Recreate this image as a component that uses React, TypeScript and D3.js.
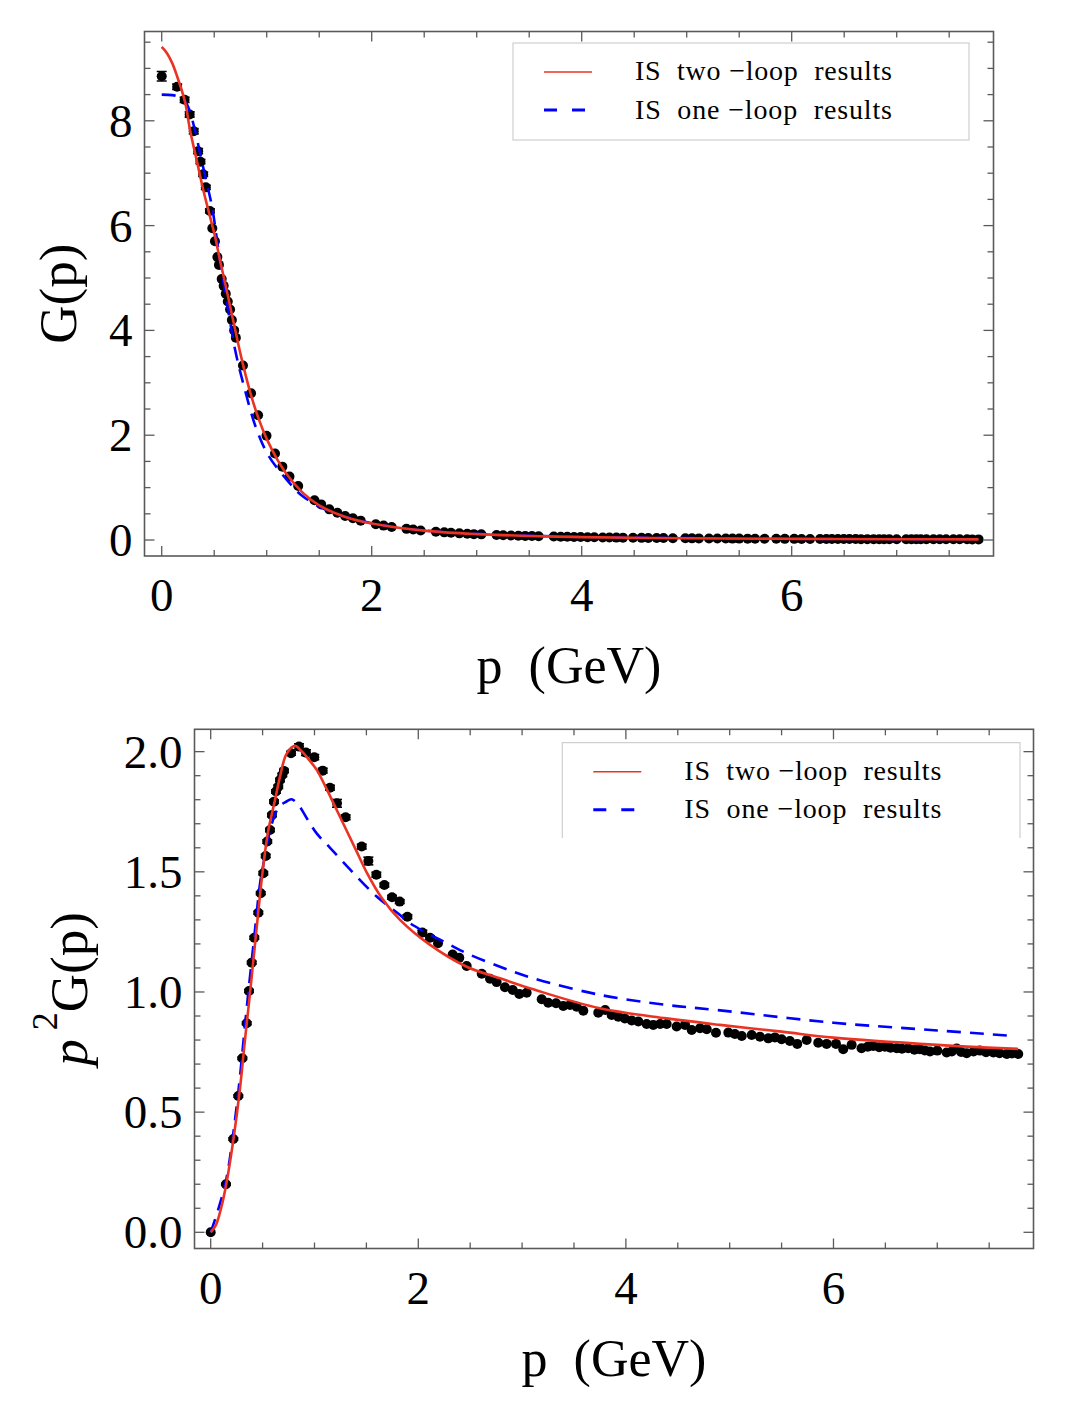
import React from 'react';
import * as d3 from 'd3';

// lattice momenta (GeV), shared by both panels
const latticeP = [
  0, 0.147, 0.218, 0.266, 0.305, 0.347, 0.369, 0.395, 0.42, 0.459, 0.482, 0.507, 0.53, 0.545, 0.571,
  0.59, 0.61, 0.629, 0.651, 0.668, 0.69, 0.706, 0.774, 0.851, 0.918, 0.998, 1.079, 1.149, 1.217, 1.3,
  1.455, 1.519, 1.596, 1.673, 1.747, 1.821, 1.895, 2.039, 2.113, 2.19, 2.331, 2.395, 2.466, 2.611,
  2.691, 2.755, 2.835, 2.91, 2.973, 3.044, 3.189, 3.252, 3.327, 3.397, 3.462, 3.526, 3.59, 3.734, 3.8,
  3.863, 3.927, 3.99, 4.056, 4.12, 4.2, 4.264, 4.33, 4.393, 4.489, 4.57, 4.634, 4.714, 4.779, 4.868,
  4.987, 5.05, 5.116, 5.212, 5.292, 5.372, 5.436, 5.5, 5.58, 5.651, 5.742, 5.853, 5.934, 6.024, 6.094,
  6.175, 6.27, 6.33, 6.383, 6.44, 6.496, 6.55, 6.609, 6.66, 6.72, 6.78, 6.833, 6.88, 6.93, 7.0, 7.09,
  7.14, 7.187, 7.23, 7.283, 7.35, 7.41, 7.47, 7.54, 7.6, 7.67, 7.72, 7.78,
];

// G(p), top panel
const latticeG = [
  8.85, 8.65, 8.4, 8.12, 7.8, 7.42, 7.22, 6.98, 6.73, 6.28, 5.95, 5.7, 5.4, 5.25, 4.98,
  4.85, 4.7, 4.55, 4.4, 4.2, 4.0, 3.86, 3.33, 2.8, 2.38, 1.99, 1.65, 1.4, 1.21, 1.03,
  0.76, 0.68, 0.585, 0.52, 0.46, 0.415, 0.37, 0.3, 0.275, 0.25, 0.213, 0.2, 0.183, 0.158,
  0.146, 0.137, 0.127, 0.119, 0.112, 0.108, 0.095, 0.09, 0.086, 0.082, 0.079, 0.076, 0.072, 0.066, 0.064,
  0.061, 0.058, 0.056, 0.054, 0.052, 0.049, 0.047, 0.046, 0.045, 0.042, 0.041, 0.039, 0.038, 0.037, 0.035,
  0.033, 0.032, 0.031, 0.03, 0.029, 0.028, 0.027, 0.027, 0.026, 0.025, 0.024, 0.023, 0.022, 0.022, 0.021,
  0.02, 0.019, 0.019, 0.019, 0.019, 0.018, 0.018, 0.018, 0.017, 0.017, 0.017, 0.016, 0.016, 0.016, 0.015, 0.015,
  0.015, 0.015, 0.014, 0.014, 0.014, 0.014, 0.013, 0.013, 0.013, 0.013, 0.012, 0.012,
];
const latticeGErr = [0.09, 0.05, 0.05, 0.05, 0.05, 0.05, 0.04, 0.04, 0.04, 0.04];

// p^2 G(p), bottom panel
const latticeP2G = [
  0, 0.2, 0.388, 0.567, 0.724, 0.87, 1.004, 1.122, 1.226, 1.33, 1.411, 1.494, 1.566, 1.626, 1.674,
  1.736, 1.792, 1.834, 1.854, 1.882, 1.903, 1.92, 1.993, 2.021, 1.996, 1.977, 1.921, 1.85, 1.785, 1.727,
  1.605, 1.545, 1.488, 1.445, 1.394, 1.376, 1.313, 1.247, 1.226, 1.203, 1.156, 1.142, 1.108, 1.076,
  1.055, 1.041, 1.02, 1.008, 0.992, 0.997, 0.97, 0.955, 0.953, 0.942, 0.946, 0.939, 0.922, 0.914, 0.925,
  0.904, 0.897, 0.89, 0.881, 0.877, 0.867, 0.863, 0.867, 0.867, 0.856, 0.863, 0.842, 0.849, 0.845, 0.83,
  0.831, 0.825, 0.817, 0.821, 0.814, 0.807, 0.811, 0.803, 0.796, 0.784, 0.8, 0.789, 0.784, 0.784, 0.762,
  0.78, 0.766, 0.772, 0.775, 0.77, 0.772, 0.768, 0.766, 0.764, 0.766, 0.76, 0.762, 0.757, 0.752, 0.756, 0.748,
  0.752, 0.765, 0.75, 0.745, 0.752, 0.756, 0.749, 0.748, 0.745, 0.742, 0.744, 0.742,
];
const latticeP2GErr = [
  0, 0.004, 0.005, 0.005, 0.005, 0.006, 0.006, 0.006, 0.006, 0.006, 0.006, 0.007, 0.007, 0.007, 0.007,
  0.007, 0.007, 0.007, 0.007, 0.007, 0.007, 0.007, 0.008, 0.012, 0.012, 0.011, 0.01, 0.01, 0.016, 0.01,
  0.01, 0.016, 0.01, 0.008, 0.008, 0.008, 0.008, 0.01, 0.008,
];

// IS curves, G(p)
const twoLoopGP = [0, 0.05, 0.1, 0.143, 0.222, 0.27, 0.333, 0.396, 0.46, 0.508, 0.555, 0.612, 0.676, 0.73, 0.78, 0.85, 0.92, 1.0, 1.1, 1.2, 1.35, 1.5, 1.75, 2.0, 2.5, 3.0, 3.5, 4.0, 5.0, 6.0, 7.0, 7.78];
const twoLoopG = [9.41, 9.29, 9.1, 8.87, 8.36, 7.82, 7.25, 6.68, 6.17, 5.79, 5.34, 4.83, 4.23, 3.73, 3.3, 2.77, 2.33, 1.93, 1.54, 1.23, 0.89, 0.66, 0.44, 0.315, 0.18, 0.113, 0.078, 0.055, 0.034, 0.0225, 0.016, 0.0126];
const oneLoopGP = [0, 0.1, 0.143, 0.2, 0.244, 0.317, 0.365, 0.422, 0.48, 0.55, 0.635, 0.7, 0.78, 0.9, 1.02, 1.2, 1.34, 1.6, 2.0, 2.5, 3.0, 3.75, 4.4, 5.0, 6.0, 7.0, 7.7];
const oneLoopG = [8.5, 8.49, 8.47, 8.42, 8.3, 7.82, 7.38, 6.87, 6.35, 5.4, 4.36, 3.62, 2.96, 2.13, 1.6, 1.13, 0.84, 0.545, 0.32, 0.182, 0.12, 0.07, 0.049, 0.037, 0.024, 0.0175, 0.014];

// IS curves, p^2 G(p)
const twoLoopP2GP = [0, 0.05, 0.1, 0.15, 0.22, 0.28, 0.33, 0.375, 0.42, 0.46, 0.5, 0.55, 0.62, 0.67, 0.73, 0.81, 0.88, 0.95, 1.02, 1.1, 1.2, 1.3, 1.4, 1.5, 1.65, 1.824, 2.1, 2.466, 2.787, 3.108, 3.75, 4.393, 4.906, 5.5, 6.0, 7.0, 7.78];
const twoLoopP2G = [0, 0.03, 0.1, 0.2, 0.39, 0.59, 0.8, 0.98, 1.17, 1.34, 1.5, 1.66, 1.8, 1.9, 1.99, 2.024, 2.0, 1.965, 1.925, 1.86, 1.77, 1.68, 1.59, 1.5, 1.39, 1.3, 1.2, 1.105, 1.057, 1.011, 0.932, 0.89, 0.863, 0.835, 0.81, 0.78, 0.763];
const oneLoopP2GP = [0, 0.073, 0.15, 0.22, 0.28, 0.33, 0.363, 0.42, 0.475, 0.507, 0.56, 0.62, 0.668, 0.72, 0.78, 0.85, 0.93, 1.021, 1.15, 1.342, 1.599, 1.824, 1.92, 2.305, 2.466, 2.787, 3.108, 3.75, 4.393, 4.874, 6.0, 7.0, 7.7];
const oneLoopP2G = [0, 0.096, 0.22, 0.42, 0.64, 0.86, 1.0, 1.23, 1.45, 1.53, 1.65, 1.74, 1.775, 1.79, 1.802, 1.775, 1.72, 1.66, 1.6, 1.51, 1.397, 1.32, 1.286, 1.196, 1.161, 1.105, 1.057, 0.988, 0.946, 0.925, 0.872, 0.84, 0.818];

const xMajor = [0, 2, 4, 6];
const xMinor = d3.range(0.5, 8, 0.5).filter((v) => v % 2 !== 0);
const topYMajor = [0, 2, 4, 6, 8];
const topYMinor = d3.range(0.5, 9.6, 0.5).filter((v) => v % 2 !== 0);
const botYMajor = [0, 0.5, 1, 1.5, 2];
const botYLabels = ['0.0', '0.5', '1.0', '1.5', '2.0'];
const botYMinor = d3.range(0.1, 2.05, 0.1).filter((v) => Math.abs(v * 2 - Math.round(v * 2)) > 1e-6);

const legendLabels = ['IS  two \u2212loop  results', 'IS  one \u2212loop  results'];

const FONT = '"Liberation Serif", "Times New Roman", "DejaVu Serif", serif';
const AXIS = '#5a5a5a';
const RED = '#ea3323';
const BLUE = '#0000ff';

type PanelProps = {
  id: string;
  box: { left: number; right: number; top: number; bottom: number };
  xDomain: [number, number];
  yDomain: [number, number];
  yMajor: number[];
  yLabels: string[];
  yMinor: number[];
  ys: number[];
  errs: number[];
  two: [number[], number[]];
  one: [number[], number[]];
  yLabel: React.ReactNode;
  yLabelX: number;
  legend: { left: number; top: number; right: number; bottom: number; closed: boolean };
};

const Panel: React.FC<PanelProps> = (props) => {
  const { box, legend } = props;
  const x = d3.scaleLinear().domain(props.xDomain).range([box.left, box.right]);
  const y = d3.scaleLinear().domain(props.yDomain).range([box.bottom, box.top]);
  const line = d3
    .line<[number, number]>()
    .x((d) => x(d[0]))
    .y((d) => y(d[1]))
    .curve(d3.curveCatmullRom.alpha(0.5));
  const pairs = (s: [number[], number[]]) => s[0].map((p, i) => [p, s[1][i]] as [number, number]);

  const ticksX = (vals: number[], len: number) =>
    vals.map((v) => (
      <g key={'x' + v}>
        <line x1={x(v)} x2={x(v)} y1={box.bottom} y2={box.bottom - len} />
        <line x1={x(v)} x2={x(v)} y1={box.top} y2={box.top + len} />
      </g>
    ));
  const ticksY = (vals: number[], len: number) =>
    vals.map((v) => (
      <g key={'y' + v}>
        <line x1={box.left} x2={box.left + len} y1={y(v)} y2={y(v)} />
        <line x1={box.right} x2={box.right - len} y1={y(v)} y2={y(v)} />
      </g>
    ));

  const lx = legend.left;
  const sampleX1 = lx + 31;
  const textX = lx + 122;

  return (
    <g>
      <defs>
        <clipPath id={props.id}>
          <rect x={box.left} y={box.top} width={box.right - box.left} height={box.bottom - box.top} />
        </clipPath>
      </defs>

      <g clipPath={`url(#${props.id})`}>
        {latticeP.map((p, i) => {
          const e = props.errs[i] || 0;
          const cx = x(p);
          return (
            <g key={i}>
              {e > 0 && (
                <g stroke="#000" strokeWidth={1.6}>
                  <line x1={cx} x2={cx} y1={y(props.ys[i] - e)} y2={y(props.ys[i] + e)} />
                  <line x1={cx - 5} x2={cx + 5} y1={y(props.ys[i] - e)} y2={y(props.ys[i] - e)} />
                  <line x1={cx - 5} x2={cx + 5} y1={y(props.ys[i] + e)} y2={y(props.ys[i] + e)} />
                </g>
              )}
              <circle cx={cx} cy={y(props.ys[i])} r={5} fill="#000" />
            </g>
          );
        })}
        <path d={line(pairs(props.one)) || ''} fill="none" stroke={BLUE} strokeWidth={2.6} strokeDasharray="14,9" />
        <path d={line(pairs(props.two)) || ''} fill="none" stroke={RED} strokeWidth={2.6} />
      </g>

      {/* legend */}
      {legend.closed ? (
        <rect x={lx} y={legend.top} width={legend.right - lx} height={legend.bottom - legend.top} fill="#fff" stroke="#cfcfcf" strokeWidth={1.2} />
      ) : (
        <path
          d={`M${lx},${legend.bottom}V${legend.top}H${legend.right}V${legend.bottom}`}
          fill="#fff"
          stroke="#cfcfcf"
          strokeWidth={1.2}
        />
      )}
      <line x1={sampleX1} x2={sampleX1 + 48} y1={legend.top + 29} y2={legend.top + 29} stroke={RED} strokeWidth={1.6} />
      <line x1={sampleX1} x2={sampleX1 + 41} y1={legend.top + 67} y2={legend.top + 67} stroke={BLUE} strokeWidth={3} strokeDasharray="13,15" />
      {legendLabels.map((t, i) => (
        <text
          key={t}
          x={textX}
          y={legend.top + 37 + i * 38.5}
          fontSize={28}
          fontFamily={FONT}
          textLength={257}
          lengthAdjust="spacing"
          style={{ whiteSpace: 'pre' }}
        >
          {t}
        </text>
      ))}

      {/* frame and ticks */}
      <g stroke={AXIS} strokeWidth={1.3}>
        {ticksX(xMajor, 10)}
        {ticksX(xMinor, 6)}
        {ticksY(props.yMajor, 10)}
        {ticksY(props.yMinor, 6)}
        <rect x={box.left} y={box.top} width={box.right - box.left} height={box.bottom - box.top} fill="none" strokeWidth={1.6} />
      </g>

      {/* tick labels */}
      <g fontFamily={FONT} fontSize={47}>
        {xMajor.map((v) => (
          <text key={v} x={x(v)} y={box.bottom + 55} textAnchor="middle">
            {v}
          </text>
        ))}
        {props.yMajor.map((v, i) => (
          <text key={v} x={box.left - 12} y={y(v) + 16} textAnchor="end">
            {props.yLabels[i]}
          </text>
        ))}
      </g>

      <text x={(box.left + box.right) / 2} y={box.bottom + 127} textAnchor="middle" fontFamily={FONT} fontSize={52} style={{ whiteSpace: 'pre' }}>
        {'p  (GeV)'}
      </text>
      <text
        transform={`translate(${props.yLabelX},${(box.top + box.bottom) / 2}) rotate(-90)`}
        textAnchor="middle"
        fontFamily={FONT}
        fontSize={53}
      >
        {props.yLabel}
      </text>
    </g>
  );
};

const App: React.FC = () => {
  return (
    <div style={{ position: 'absolute', left: 0, top: 0 }}>
      <svg width={1086} height={1412} style={{ display: 'block', background: '#fff' }}>
        <Panel
          id="clipTop"
          box={{ left: 144.5, right: 993.5, top: 31.5, bottom: 556 }}
          xDomain={[-0.164, 7.922]}
          yDomain={[-0.305, 9.704]}
          yMajor={topYMajor}
          yLabels={topYMajor.map(String)}
          yMinor={topYMinor}
          ys={latticeG}
          errs={latticeGErr}
          two={[twoLoopGP, twoLoopG]}
          one={[oneLoopGP, oneLoopG]}
          yLabel="G(p)"
          yLabelX={76}
          legend={{ left: 513, top: 43, right: 969, bottom: 140, closed: true }}
        />
        <Panel
          id="clipBot"
          box={{ left: 194.5, right: 1033.5, top: 729.3, bottom: 1248.5 }}
          xDomain={[-0.156, 7.927]}
          yDomain={[-0.0674, 2.093]}
          yMajor={botYMajor}
          yLabels={botYLabels}
          yMinor={botYMinor}
          ys={latticeP2G}
          errs={latticeP2GErr}
          two={[twoLoopP2GP, twoLoopP2G]}
          one={[oneLoopP2GP, oneLoopP2G]}
          yLabel={
            <>
              <tspan fontStyle="italic">p</tspan>
              <tspan fontSize={36} dy={-30}>
                {'\u00a02'}
              </tspan>
              <tspan dy={30}>G(p)</tspan>
            </>
          }
          yLabelX={87}
          legend={{ left: 562.3, top: 742.7, right: 1020, bottom: 838, closed: false }}
        />
      </svg>
    </div>
  );
};

export default App;
